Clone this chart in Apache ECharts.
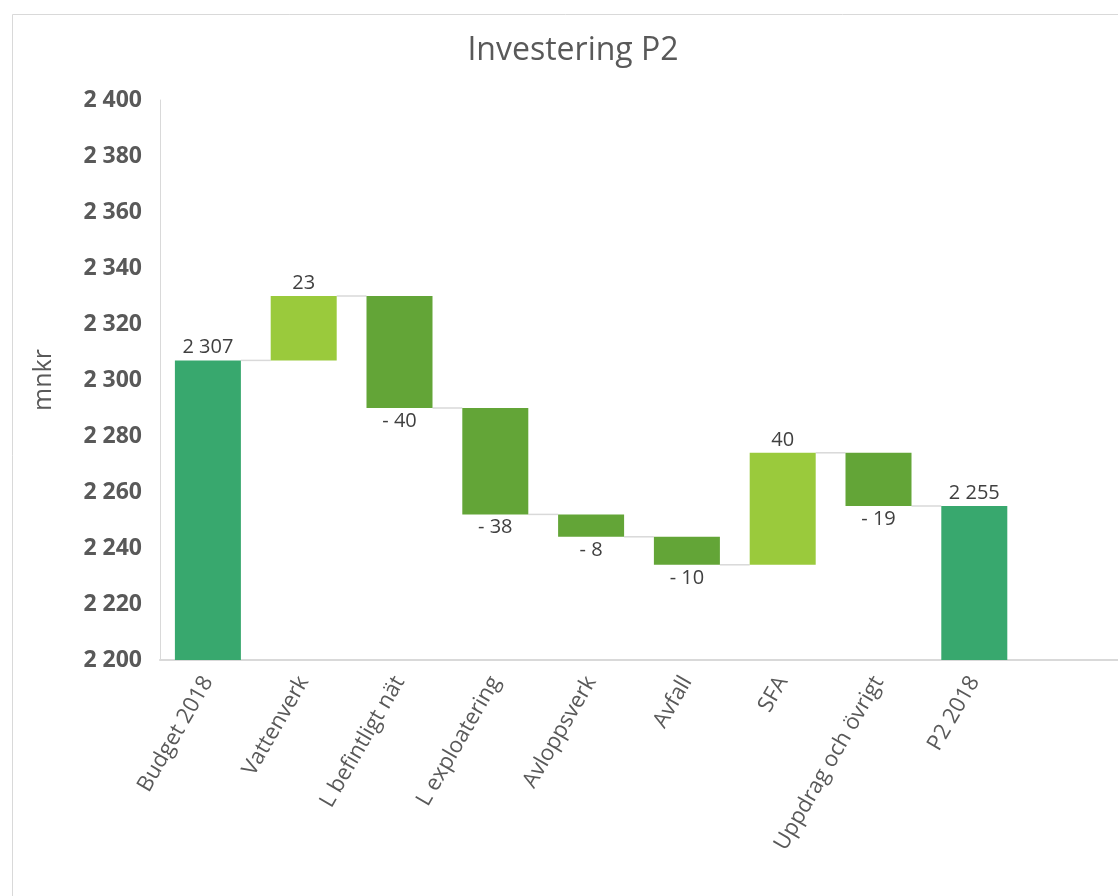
<!DOCTYPE html>
<html><head><meta charset="utf-8">
<script src="https://cdn.jsdelivr.net/npm/echarts@6/dist/echarts.min.js"></script>
<style>html,body{margin:0;padding:0;background:#fff}#c{width:1118px;height:896px}</style>
</head><body><div id="c"></div>
<script>
// ---- data ----
const categories = ['Budget 2018', 'Vattenverk', 'L befintligt nät', 'L exploatering', 'Avloppsverk', 'Avfall', 'SFA', 'Uppdrag och övrigt', 'P2 2018', ''];
const startTotal = 2307;
const changes = [23, -40, -38, -8, -10, 40, -19];
const endTotal = 2255;
const yMin = 2200, yMax = 2400, yStep = 20;

// ---- build waterfall from data ----
const COL_TOTAL = '#38A86E', COL_UP = '#9ACA3C', COL_DOWN = '#63A537';
function fmt(v) {
  const s = String(Math.abs(v)).replace(/\B(?=(\d{3})+(?!\d))/g, ' ');
  return v < 0 ? '- ' + s : s;
}
const baseData = [], visData = [], levels = [];
let run = startTotal;
baseData.push(0);
visData.push({ value: startTotal, itemStyle: { color: COL_TOTAL }, label: { position: 'top', formatter: fmt(startTotal) } });
levels.push([0, run]);
changes.forEach((c, k) => {
  const lo = c >= 0 ? run : run + c;
  baseData.push(lo);
  visData.push({ value: Math.abs(c), itemStyle: { color: c >= 0 ? COL_UP : COL_DOWN }, label: { position: c >= 0 ? 'top' : 'bottom', formatter: fmt(c) } });
  run += c;
  levels.push([k + 1, run]);
});
baseData.push(0);
visData.push({ value: endTotal, itemStyle: { color: COL_TOTAL }, label: { position: 'top', formatter: fmt(endTotal) } });
baseData.push('-'); visData.push('-');

const BAR_W = 66;
const chart = echarts.init(document.getElementById('c'), null, { renderer: 'canvas' });
chart.setOption({
  animation: false,
  textStyle: { fontFamily: 'Open Sans' },
  graphic: [
    { type: 'rect', left: 10, top: 12, shape: { width: 1200, height: 1000 }, style: { fill: 'none', stroke: '#d9d9d9', lineWidth: 1 }, z: -10 },
    { type: 'text', x: 573, y: 51, style: { text: 'Investering P2', fontFamily: 'Open Sans', fontSize: 32, fill: '#595959', textAlign: 'center', textVerticalAlign: 'middle' } }
  ],
  grid: { left: 160, right: 0, top: 100, bottom: 236, containLabel: false },
  xAxis: {
    type: 'category', data: categories,
    axisLine: { lineStyle: { color: '#d9d9d9', width: 2 } },
    axisTick: { show: false },
    axisLabel: { interval: 0, rotate: 60, fontSize: 22, color: '#595959', margin: 18, fontFamily: 'Open Sans' }
  },
  yAxis: {
    type: 'value', min: yMin, max: yMax, interval: yStep,
    name: 'mnkr', nameLocation: 'middle', nameGap: 104, nameRotate: 90,
    nameTextStyle: { fontSize: 25, color: '#595959', fontFamily: 'Open Sans' },
    axisLine: { show: true, lineStyle: { color: '#d9d9d9', width: 1 } },
    axisTick: { show: false },
    splitLine: { show: false },
    axisLabel: { fontSize: 23, fontWeight: 'bold', color: '#595959', margin: 18, fontFamily: 'Open Sans', formatter: v => fmt(v) }
  },
  series: [
    { type: 'bar', stack: 'wf', data: baseData, barWidth: BAR_W, itemStyle: { color: 'transparent' }, silent: true, z: 2 },
    { type: 'bar', stack: 'wf', data: visData, barWidth: BAR_W, z: 3,
      label: { show: true, fontSize: 20, color: '#404040', distance: 3, fontFamily: 'Open Sans' } },
    { type: 'custom', data: levels, z: 1,
      renderItem: function (params, api) {
        const i = api.value(0), lvl = api.value(1);
        const p1 = api.coord([i, lvl]);
        const p2 = api.coord([i + 1, lvl]);
        return { type: 'line', shape: { x1: p1[0] + BAR_W / 2, y1: p1[1], x2: p2[0] - BAR_W / 2, y2: p2[1] },
          style: { stroke: '#d9d9d9', lineWidth: 1.5 } };
      } }
  ]
});
</script>
</body></html>
